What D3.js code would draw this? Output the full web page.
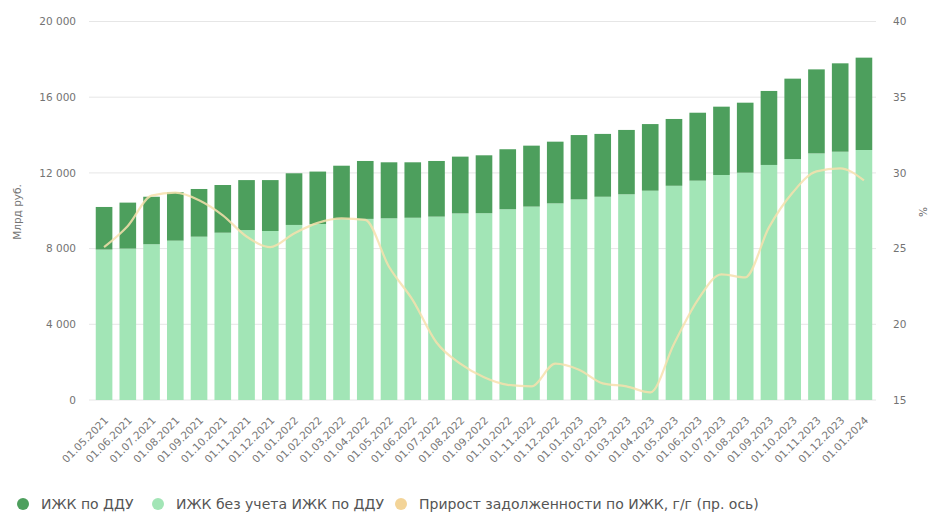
<!DOCTYPE html>
<html>
<head>
<meta charset="utf-8">
<script src="https://cdn.jsdelivr.net/npm/d3@7"></script>
<style>
  body { margin: 0; background: #fff; }
  text { font-family: "DejaVu Sans", "Liberation Sans", sans-serif; }
</style>
</head>
<body>
<script>
// data
var dates = ["01.05.2021","01.06.2021","01.07.2021","01.08.2021","01.09.2021","01.10.2021","01.11.2021","01.12.2021",
  "01.01.2022","01.02.2022","01.03.2022","01.04.2022","01.05.2022","01.06.2022","01.07.2022","01.08.2022","01.09.2022",
  "01.10.2022","01.11.2022","01.12.2022","01.01.2023","01.02.2023","01.03.2023","01.04.2023","01.05.2023","01.06.2023",
  "01.07.2023","01.08.2023","01.09.2023","01.10.2023","01.11.2023","01.12.2023","01.01.2024"];

// ИЖК без учета ИЖК по ДДУ, млрд руб.
var nonDdu = [7950,8000,8230,8420,8630,8840,8980,8930,9250,9300,9560,9570,9600,9630,9690,9860,9870,
  10080,10220,10390,10600,10740,10870,11060,11320,11590,11890,12010,12420,12730,13030,13120,13210];

// ИЖК по ДДУ, млрд руб.
var ddu = [2250,2430,2510,2560,2520,2520,2640,2690,2730,2770,2820,3060,2960,2930,2940,3000,3060,
  3170,3220,3260,3400,3320,3400,3520,3530,3590,3610,3700,3910,4250,4440,4670,4880];

// Прирост задолженности по ИЖК, г/г, %
var growth = [25.1,26.5,28.5,28.7,28.2,27.2,25.8,25.1,26.0,26.7,27.0,26.9,23.8,21.6,18.8,17.4,16.5,
  16.0,15.9,17.4,17.0,16.1,15.9,15.5,18.7,21.6,23.3,23.1,26.4,28.7,30.1,30.3,29.5];

var leftTicks = [0, 4000, 8000, 12000, 16000, 20000];
var rightTicks = [15, 20, 25, 30, 35, 40];

var svgWidth = 933;
var svgHeight = 515;

var colDark = "#4d9f5d";
var colLight = "#a2e5b6";
var colLine = "#f7e0ad";

var svg = d3.select("body")
    .append("svg")
    .attr("width", svgWidth)
    .attr("height", svgHeight);

var ru = d3.formatLocale({decimal: ",", thousands: "\u00a0", grouping: [3], currency: ["", ""]});
var fmt = ru.format(",d");

// scales
var xScale = d3.scaleBand()
    .domain(dates)
    .range([91, 877])
    .paddingInner(0.3)
    .paddingOuter(0.2);

var yScale = d3.scaleLinear()
    .domain([0, 20000])
    .range([400, 21.5]);

var y2Scale = d3.scaleLinear()
    .domain([15, 40])
    .range([400, 21.5]);

// gridlines
svg.append("g")
    .selectAll("line")
    .data(leftTicks)
    .enter()
    .append("line")
    .attr("x1", 89)
    .attr("x2", 876)
    .attr("y1", d => yScale(d))
    .attr("y2", d => yScale(d))
    .attr("stroke", "#e6e6e6")
    .attr("stroke-width", 1);

// left axis
var leftAxis = d3.axisLeft(yScale).tickValues(leftTicks).tickFormat(fmt).tickSize(0).tickPadding(0);
var gl = svg.append("g")
    .attr("transform", "translate(76,0)")
    .call(leftAxis);
gl.select(".domain").remove();
gl.selectAll("text").attr("fill", "#737373").attr("font-size", "10.5px").attr("font-family", "DejaVu Sans");

// right axis
var rightAxis = d3.axisRight(y2Scale).tickValues(rightTicks).tickSize(0).tickPadding(0);
var gr = svg.append("g")
    .attr("transform", "translate(893,0)")
    .call(rightAxis);
gr.select(".domain").remove();
gr.selectAll("text").attr("fill", "#737373").attr("font-size", "10.5px").attr("font-family", "DejaVu Sans");

// stacked bars
svg.append("g")
    .selectAll("rect")
    .data(dates)
    .enter()
    .append("rect")
    .attr("x", d => xScale(d))
    .attr("width", xScale.bandwidth())
    .attr("y", (d, i) => yScale(nonDdu[i]))
    .attr("height", (d, i) => yScale(0) - yScale(nonDdu[i]))
    .attr("fill", colLight);

svg.append("g")
    .selectAll("rect")
    .data(dates)
    .enter()
    .append("rect")
    .attr("x", d => xScale(d))
    .attr("width", xScale.bandwidth())
    .attr("y", (d, i) => yScale(nonDdu[i] + ddu[i]))
    .attr("height", (d, i) => yScale(nonDdu[i]) - yScale(nonDdu[i] + ddu[i]))
    .attr("fill", colDark);

// growth line (right axis)
var line = d3.line()
    .x((d, i) => xScale(dates[i]) + xScale.bandwidth() / 2)
    .y(d => y2Scale(d))
    .curve(d3.curveMonotoneX);

svg.append("path")
    .datum(growth)
    .attr("d", line)
    .attr("fill", "none")
    .attr("stroke", colLine)
    .attr("stroke-width", 2.2)
    .attr("opacity", 0.85);

// x labels
svg.append("g")
    .selectAll("text")
    .data(dates)
    .enter()
    .append("text")
    .attr("transform", d => `translate(${xScale(d) + xScale.bandwidth() / 2 + 5}, 421) rotate(-45)`)
    .attr("text-anchor", "end")
    .attr("font-size", "10.5px")
    .attr("fill", "#777")
    .text(d => d);

// axis titles
svg.append("text")
    .attr("transform", "translate(21,212) rotate(-90)")
    .attr("text-anchor", "middle")
    .attr("font-size", "10.5px")
    .attr("fill", "#737373")
    .text("Млрд руб.");

svg.append("text")
    .attr("transform", "translate(919,212) rotate(90)")
    .attr("text-anchor", "middle")
    .attr("font-size", "10.5px")
    .attr("fill", "#737373")
    .text("%");

// legend
var legendItems = [
  {name: "ИЖК по ДДУ", color: colDark, x: 23},
  {name: "ИЖК без учета ИЖК по ДДУ", color: colLight, x: 158},
  {name: "Прирост задолженности по ИЖК, г/г (пр. ось)", color: "#f3d498", x: 401}
];

var lg = svg.append("g").selectAll("g")
    .data(legendItems)
    .enter()
    .append("g")
    .attr("transform", d => `translate(${d.x},504)`);

lg.append("circle")
    .attr("r", 6)
    .attr("fill", d => d.color);

lg.append("text")
    .attr("x", 18)
    .attr("y", 5)
    .attr("font-size", "14px")
    .attr("fill", "#555")
    .text(d => d.name);
</script>
</body>
</html>
